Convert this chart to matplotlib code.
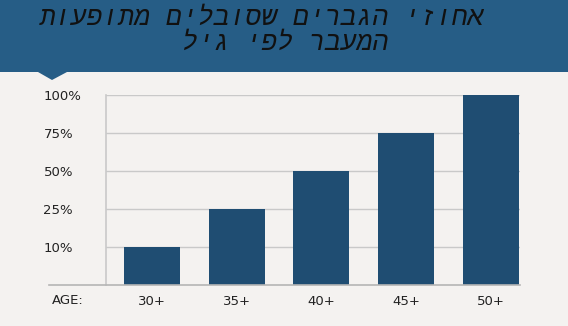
import numpy as np
import matplotlib
matplotlib.use("Agg")
import matplotlib.pyplot as plt
from matplotlib.patches import Rectangle, Polygon
from matplotlib.lines import Line2D

# data
ages = ["30+", "35+", "40+", "45+", "50+"]
percents = [10, 25, 50, 75, 100]
tick_values = [10, 25, 50, 75, 100]
tick_labels = ["10%", "25%", "50%", "75%", "100%"]
title_lines = ["אחוזי הגברים שסובלים מתופעות", "המעבר לפי גיל"]

BG = "#f4f2f0"
HEADER = "#265d86"
BAR = "#1f4d72"
GRID = "#c9c9c9"

W, H = 568, 326
fig = plt.figure(figsize=(W / 100, H / 100), dpi=100, facecolor=BG)

# header band with small pointer
fig.add_artist(Rectangle((0, 1 - 72 / H), 1, 72 / H, transform=fig.transFigure,
                         facecolor=HEADER, edgecolor="none", zorder=0))
fig.add_artist(Polygon([(38 / W, 1 - 72 / H), (67 / W, 1 - 72 / H), (52 / W, 1 - 80 / H)],
                       closed=True, transform=fig.transFigure,
                       facecolor=HEADER, edgecolor="none", zorder=0))

# hebrew is drawn left to right, so reverse for display
title_font = ["Liberation Mono", "DejaVu Sans Mono", "DejaVu Sans"]
fig.text(262 / W, 1 - 25 / H, title_lines[0][::-1], ha="center", va="baseline",
         fontsize=19, fontstyle="italic", color="#111111", family=title_font)
fig.text(285 / W, 1 - 50 / H, title_lines[1][::-1], ha="center", va="baseline",
         fontsize=19, fontstyle="italic", color="#111111", family=title_font)

ax = fig.add_axes([106 / W, (H - 285) / H, (520 - 106) / W, (285 - 94.5) / H])
ax.set_facecolor(BG)

# tick levels are evenly spaced on the chart
levels = [0] + tick_values
slots = list(range(len(levels)))
ax.set_yscale("function", functions=(lambda v: np.interp(v, levels, slots),
                                     lambda p: np.interp(p, slots, levels)))

x = np.arange(len(ages))
ax.bar(x, percents, width=0.66, color=BAR, zorder=3)

ax.set_xlim(-0.54, 4.34)
ax.set_ylim(0, 100)
ax.set_yticks(tick_values)
ax.set_yticklabels(tick_labels)
ax.set_xticks(x)
ax.set_xticklabels(ages)
ax.yaxis.grid(True, color=GRID, linewidth=1)
ax.set_axisbelow(True)

for s in ["top", "right", "bottom"]:
    ax.spines[s].set_visible(False)
ax.spines["left"].set_color(GRID)
ax.spines["left"].set_linewidth(1.2)

ax.tick_params(axis="y", length=0, pad=45, labelsize=9.5, labelcolor="#222222")
for lab in ax.get_yticklabels():
    lab.set_horizontalalignment("left")
ax.tick_params(axis="x", length=0, pad=7, labelsize=9.5, labelcolor="#222222")

# baseline runs out under the AGE label
fig.add_artist(Line2D([49 / W, 520 / W], [(H - 285) / H] * 2, transform=fig.transFigure,
                      color="#b5b5b5", linewidth=1.2, zorder=4))
fig.text(52 / W, 1 - 300 / H, "AGE:", ha="left", va="center", fontsize=9.5, color="#222222")

fig.savefig("out.png", dpi=100, facecolor=BG)
